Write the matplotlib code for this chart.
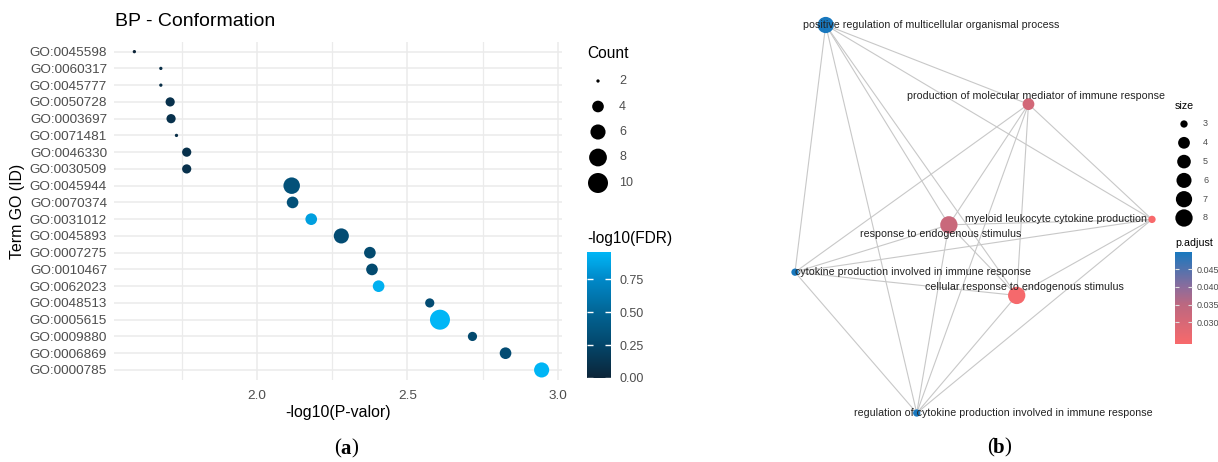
import numpy as np
import matplotlib.pyplot as plt
from matplotlib.colors import LinearSegmentedColormap

plt.rcParams['font.family'] = ['Liberation Sans', 'DejaVu Sans']

# (a) BP enrichment, terms listed top to bottom
go_ids = ['GO:0045598', 'GO:0060317', 'GO:0045777', 'GO:0050728', 'GO:0003697',
          'GO:0071481', 'GO:0046330', 'GO:0030509', 'GO:0045944', 'GO:0070374',
          'GO:0031012', 'GO:0045893', 'GO:0007275', 'GO:0010467', 'GO:0062023',
          'GO:0048513', 'GO:0005615', 'GO:0009880', 'GO:0006869', 'GO:0000785']
neg_log_p = [1.592, 1.680, 1.680, 1.711, 1.714, 1.732, 1.766, 1.766, 2.115, 2.118,
             2.180, 2.280, 2.375, 2.382, 2.404, 2.574, 2.608, 2.716, 2.826, 2.946]
counts = [2, 2, 2, 3, 3, 2, 3, 3, 7, 4, 4, 6, 4, 4, 4, 3, 10, 3, 4, 6]
neg_log_fdr = [0.0, 0.08, 0.08, 0.1, 0.1, 0.08, 0.1, 0.1, 0.34, 0.34,
               0.85, 0.30, 0.28, 0.28, 0.93, 0.30, 0.957, 0.27, 0.30, 0.95]
count_breaks = [2, 4, 6, 8, 10]
fdr_breaks = [0.0, 0.25, 0.50, 0.75]

# (b) enrichment map of GO terms
terms = ['positive regulation of multicellular organismal process',
         'production of molecular mediator of immune response',
         'myeloid leukocyte cytokine production',
         'response to endogenous stimulus',
         'cytokine production involved in immune response',
         'cellular response to endogenous stimulus',
         'regulation of cytokine production involved in immune response']
term_size = [7, 4, 3, 8, 3, 8, 3]
p_adjust = [0.0498, 0.0310, 0.0239, 0.0325, 0.0498, 0.0245, 0.0498]
node_x = [0.086, 0.654, 1.0, 0.431, 0.0, 0.621, 0.341]
node_y = [1.0, 0.796, 0.499, 0.485, 0.363, 0.303, 0.0]
size_breaks = [3, 4, 5, 6, 7, 8]
padj_breaks = [0.030, 0.035, 0.040, 0.045]

W, H = 1218, 462
fig = plt.figure(figsize=(W / 100, H / 100), dpi=100)


def px_box(x0, y0, x1, y1):
    return [x0 / W, 1 - y1 / H, (x1 - x0) / W, (y1 - y0) / H]


def count_area(v):
    d = 3.3 + 16.7 * np.sqrt((np.asarray(v, float) - 2) / 8)
    return (d * 0.72) ** 2


def node_area(v):
    d = 7.3 + 10 * np.sqrt((np.asarray(v, float) - 3) / 5)
    return (d * 0.72) ** 2


fdr_cmap = LinearSegmentedColormap.from_list(
    'fdr', [(0, '#0C2438'), (0.26, '#03466A'), (0.52, '#026595'),
            (0.78, '#0088C8'), (1, '#00B6F6')])
padj_cmap = LinearSegmentedColormap.from_list(
    'padj', [(0, '#F8696B'), (0.43, '#BC6880'), (0.62, '#8C6C9C'), (1, '#1878BE')])
grey_txt = '#4D4D4D'

# overlay in pixel units for titles and legend keys
lay = fig.add_axes([0, 0, 1, 1], zorder=5)
lay.set_xlim(0, W)
lay.set_ylim(H, 0)
lay.axis('off')

# ---- (a) dot plot ----
ax = fig.add_axes(px_box(114, 41.6, 562, 380))
rows = np.arange(1, len(go_ids) + 1)
xr = max(neg_log_p) - min(neg_log_p)
ax.set_xlim(min(neg_log_p) - 0.05 * xr, max(neg_log_p) + 0.05 * xr)
ax.set_ylim(len(go_ids) + 0.6, 0.4)
ax.set_yticks(rows, go_ids)
ax.set_xticks([2.0, 2.5, 3.0], ['2.0', '2.5', '3.0'])
ax.set_xticks([1.75, 2.25, 2.75], minor=True)
ax.grid(which='major', color='#EBEBEB', lw=1.1)
ax.grid(which='minor', axis='x', color='#EBEBEB', lw=0.9)
ax.set_axisbelow(True)
for s in ax.spines.values():
    s.set_visible(False)
ax.tick_params(which='both', length=0, labelcolor=grey_txt, labelsize=9.7)
ax.tick_params(axis='y', pad=5)
ax.tick_params(axis='x', pad=7)

sc = ax.scatter(neg_log_p, rows, s=count_area(counts), c=neg_log_fdr, cmap=fdr_cmap,
                vmin=0, vmax=0.957, edgecolors='none', zorder=3)

lay.text(115, 22, 'BP - Conformation', fontsize=14, va='center', ha='left')
lay.text(338, 413, '-log10(P-valor)', fontsize=11.4, va='center', ha='center')
lay.text(18, 211, 'Term GO (ID)', fontsize=11.4, va='center', ha='center', rotation=90)

# Count legend
lay.text(587, 53, 'Count', fontsize=11.2, va='center', ha='left')
for i, v in enumerate(count_breaks):
    y = 81 + i * 25.5
    lay.scatter(598, y, s=count_area(v), c='black', edgecolors='none')
    lay.text(619, y, str(v), fontsize=9, color=grey_txt, va='center', ha='left')

# -log10(FDR) colourbar
lay.text(587, 238, '-log10(FDR)', fontsize=11.2, va='center', ha='left')
cax = fig.add_axes(px_box(586.7, 251.7, 610.7, 378))
cb = fig.colorbar(sc, cax=cax)
cb.outline.set_visible(False)
cb.set_ticks(fdr_breaks, labels=['%.2f' % b for b in fdr_breaks])
cax.tick_params(axis='y', left=True, right=True, labelleft=False, labelright=True,
                direction='in', length=4.5, width=1, color='white',
                labelcolor=grey_txt, labelsize=9, pad=6)

# ---- (b) enrichment map ----
ax2 = fig.add_axes(px_box(795, 25, 1152, 413))
ax2.set_xlim(0, 1)
ax2.set_ylim(0, 1)
ax2.axis('off')
n = len(terms)
for i in range(n):
    for j in range(i + 1, n):
        ax2.plot([node_x[i], node_x[j]], [node_y[i], node_y[j]], color='#C8C8C8',
                 lw=0.8, zorder=1, clip_on=False)
ax2.scatter(node_x, node_y, s=node_area(term_size), c=p_adjust, cmap=padj_cmap,
            vmin=min(p_adjust), vmax=max(p_adjust), edgecolors='none', zorder=2,
            clip_on=False)
# label offsets in pixels from each node
label_dx = [105, 8, -96, -8, 118, 8, 87]
label_dy = [0, -8, 0, 9, 0, -8.6, 0]
for t, x, y, dx, dy in zip(terms, node_x, node_y, label_dx, label_dy):
    ax2.annotate(t, (x, y), xytext=(dx * 0.72, -dy * 0.72), textcoords='offset points',
                 ha='center', va='center', fontsize=7.7, color='#222222', zorder=3)

# size legend
lay.text(1175, 106, 'size', fontsize=7.7, va='center', ha='left')
for i, v in enumerate(size_breaks):
    y = 124 + i * 18.8
    lay.scatter(1184, y, s=node_area(v), c='black', edgecolors='none')
    lay.text(1203, y, str(v), fontsize=6.5, color=grey_txt, va='center', ha='left')

# p.adjust colourbar
lay.text(1175, 243, 'p.adjust', fontsize=7.7, va='center', ha='left')
cax2 = fig.add_axes(px_box(1175, 252, 1192.3, 344))
sm = plt.cm.ScalarMappable(cmap=padj_cmap, norm=plt.Normalize(min(p_adjust), max(p_adjust)))
cb2 = fig.colorbar(sm, cax=cax2)
cb2.outline.set_visible(False)
cb2.set_ticks(padj_breaks, labels=['%.3f' % b for b in padj_breaks])
cax2.tick_params(axis='y', left=True, right=True, labelleft=False, labelright=True,
                 direction='in', length=3, width=0.8, color='#E0E0E0',
                 labelcolor=grey_txt, labelsize=6.5, pad=3.4)

# panel letters: plain brackets, bold letter
for cx, cy, letter in [(346, 449, 'a'), (999, 448, 'b')]:
    lay.text(cx - 5, cy, '(', fontsize=15, family='Liberation Serif',
             va='center', ha='right')
    lay.text(cx, cy, letter, fontsize=15, fontweight='bold', family='Liberation Serif',
             va='center', ha='center')
    lay.text(cx + 5, cy, ')', fontsize=15, family='Liberation Serif',
             va='center', ha='left')

fig.savefig('out.png', dpi=100)
